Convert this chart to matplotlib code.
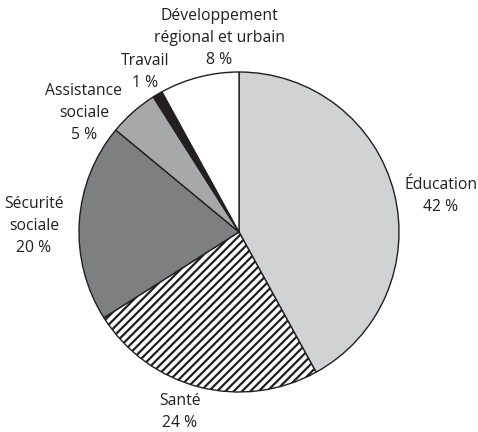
import matplotlib.pyplot as plt

# Répartition des dépenses (sens horaire depuis midi)
names = ['Éducation', 'Santé', 'Sécurité\nsociale', 'Assistance\nsociale',
         'Travail', 'Développement\nrégional et urbain']
values = [42, 24, 20, 5, 1, 8]
colors = ['#d1d2d4', 'white', '#7e7f81', '#a7a8aa', '#231f20', 'white']
hatches = ['', '////', '', '', '', '']

# position du pourcentage de chaque étiquette (rayon du disque = 1)
pct_pos = [(1.262, 0.156), (-0.369, -1.194), (-1.281, -0.10),
           (-0.969, 0.606), (-0.588, 0.931), (-0.125, 1.075)]
line_step = 0.1375  # interligne des étiquettes

plt.rcParams['font.family'] = ['Open Sans', 'DejaVu Sans']
plt.rcParams['hatch.linewidth'] = 1.6

fig = plt.figure(figsize=(4.78, 4.32), dpi=100)
ax = fig.add_axes([0, 0, 1, 1])

wedges, _ = ax.pie(values, colors=colors, startangle=90, counterclock=False,
                   wedgeprops=dict(edgecolor='#231f20', linewidth=1.0))
for w, h in zip(wedges, hatches):
    w.set_hatch(h)

style = dict(ha='center', va='center', fontsize=11.3, color='#231f20',
             linespacing=1.55)
for name, v, (x, y) in zip(names, values, pct_pos):
    n = name.count('\n') + 1
    ax.text(x, y, f'{v} %', **style)
    ax.text(x, y + line_step * (n + 1) / 2, name, **style)

# cercle de 160 px centré en (239, 232)
ax.set_xlim(-239 / 160, (478 - 239) / 160)
ax.set_ylim(-(432 - 232) / 160, 232 / 160)
ax.set_aspect('equal')
ax.axis('off')

fig.savefig('out.png', dpi=100)
